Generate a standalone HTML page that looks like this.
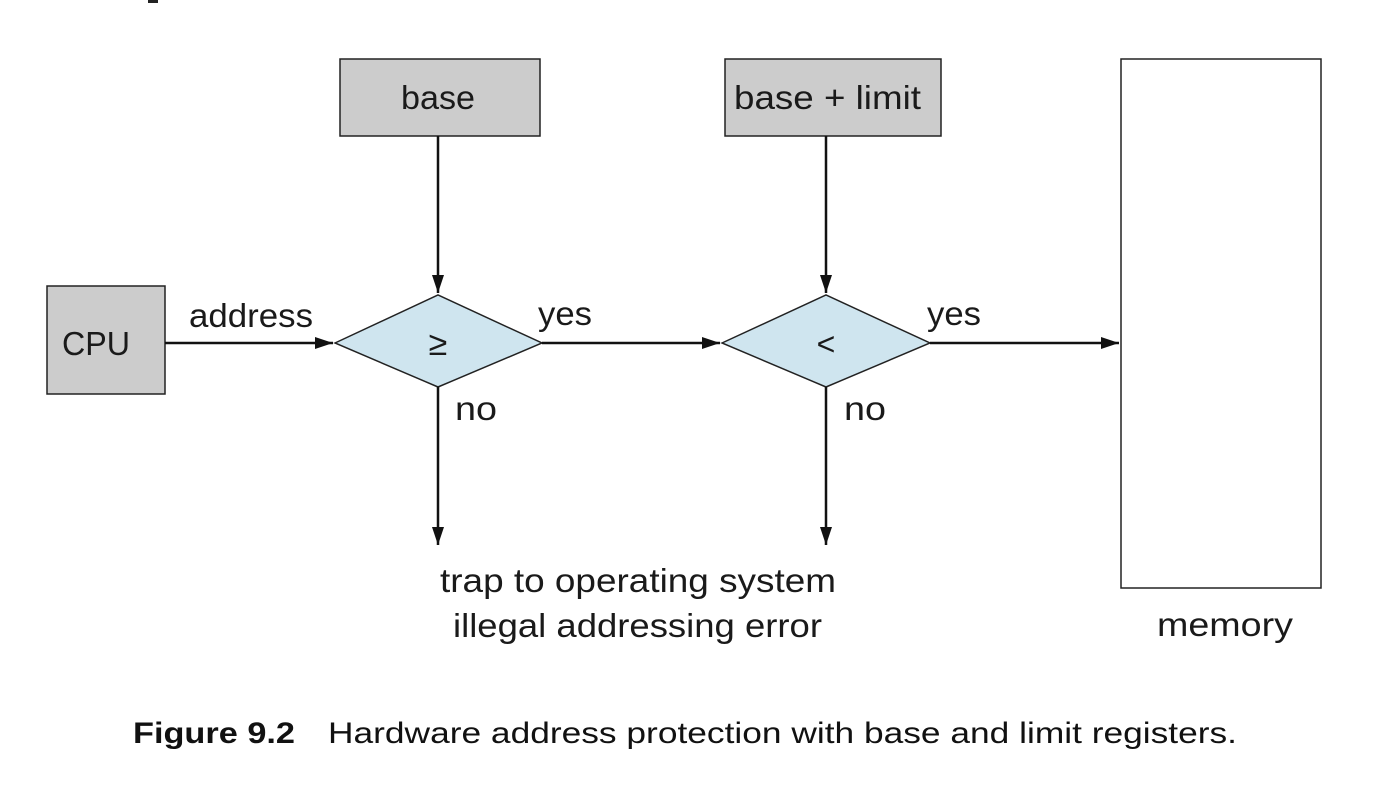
<!DOCTYPE html>
<html><head><meta charset="utf-8"><style>
html,body{margin:0;padding:0;background:#fff;width:1374px;height:798px;overflow:hidden}
svg{display:block}
text{font-family:"Liberation Sans",sans-serif;fill:#1a1a1a}
</style></head><body>
<svg width="1374" height="798" viewBox="0 0 1374 798" xmlns="http://www.w3.org/2000/svg">
<defs>
<marker id="b" markerWidth="20" markerHeight="14" refX="18" refY="7" orient="auto" markerUnits="userSpaceOnUse"><path d="M0,1 L18,7 L0,13 Z" fill="#111"/></marker></defs>
<rect x="148" y="0" width="10" height="3" fill="#222"/>
<rect x="47" y="286" width="118" height="108" fill="#cccccc" stroke="#222" stroke-width="1.5"/>
<text x="62" y="355" font-size="33" textLength="68" lengthAdjust="spacingAndGlyphs">CPU</text>
<rect x="340" y="59" width="200" height="77" fill="#cccccc" stroke="#222" stroke-width="1.5"/>
<text x="401" y="109" font-size="33" textLength="74" lengthAdjust="spacingAndGlyphs">base</text>
<rect x="725" y="59" width="216" height="77" fill="#cccccc" stroke="#222" stroke-width="1.5"/>
<text x="734" y="109" font-size="33" textLength="187" lengthAdjust="spacingAndGlyphs">base + limit</text>
<rect x="1121" y="59" width="200" height="529" fill="#fff" stroke="#222" stroke-width="1.5"/>
<text x="1157" y="636" font-size="33" textLength="136" lengthAdjust="spacingAndGlyphs">memory</text>
<polygon points="335,343 438,295 542,343 438,387" fill="#cfe5ef" stroke="#222" stroke-width="1.5"/>
<polygon points="722,343 826,295 930,343 826,387" fill="#cfe5ef" stroke="#222" stroke-width="1.5"/>
<text x="438" y="355" font-size="34" text-anchor="middle">≥</text>
<text x="826" y="355" font-size="32" text-anchor="middle">&lt;</text>
<g stroke="#111" stroke-width="2.5" fill="none">
<line x1="165" y1="343" x2="333" y2="343" marker-end="url(#b)"/>
<line x1="438" y1="136" x2="438" y2="293" marker-end="url(#b)"/>
<line x1="826" y1="136" x2="826" y2="293" marker-end="url(#b)"/>
<line x1="542" y1="343" x2="720" y2="343" marker-end="url(#b)"/>
<line x1="930" y1="343" x2="1119" y2="343" marker-end="url(#b)"/>
<line x1="438" y1="387" x2="438" y2="545" marker-end="url(#b)"/>
<line x1="826" y1="387" x2="826" y2="545" marker-end="url(#b)"/>
</g>
<text x="189" y="327" font-size="33" textLength="124" lengthAdjust="spacingAndGlyphs">address</text>
<text x="538" y="325" font-size="33" textLength="54" lengthAdjust="spacingAndGlyphs">yes</text>
<text x="927" y="325" font-size="33" textLength="54" lengthAdjust="spacingAndGlyphs">yes</text>
<text x="455" y="420" font-size="33" textLength="42" lengthAdjust="spacingAndGlyphs">no</text>
<text x="844" y="420" font-size="33" textLength="42" lengthAdjust="spacingAndGlyphs">no</text>
<text x="440" y="592" font-size="33" textLength="396" lengthAdjust="spacingAndGlyphs">trap to operating system</text>
<text x="453" y="637" font-size="33" textLength="369" lengthAdjust="spacingAndGlyphs">illegal addressing error</text>
<text x="133" y="743" font-size="30" font-weight="bold" style="fill:#111" textLength="162" lengthAdjust="spacingAndGlyphs">Figure 9.2</text>
<text x="328" y="743" font-size="30" style="fill:#111" textLength="909" lengthAdjust="spacingAndGlyphs">Hardware address protection with base and limit registers.</text>
</svg>
</body></html>
